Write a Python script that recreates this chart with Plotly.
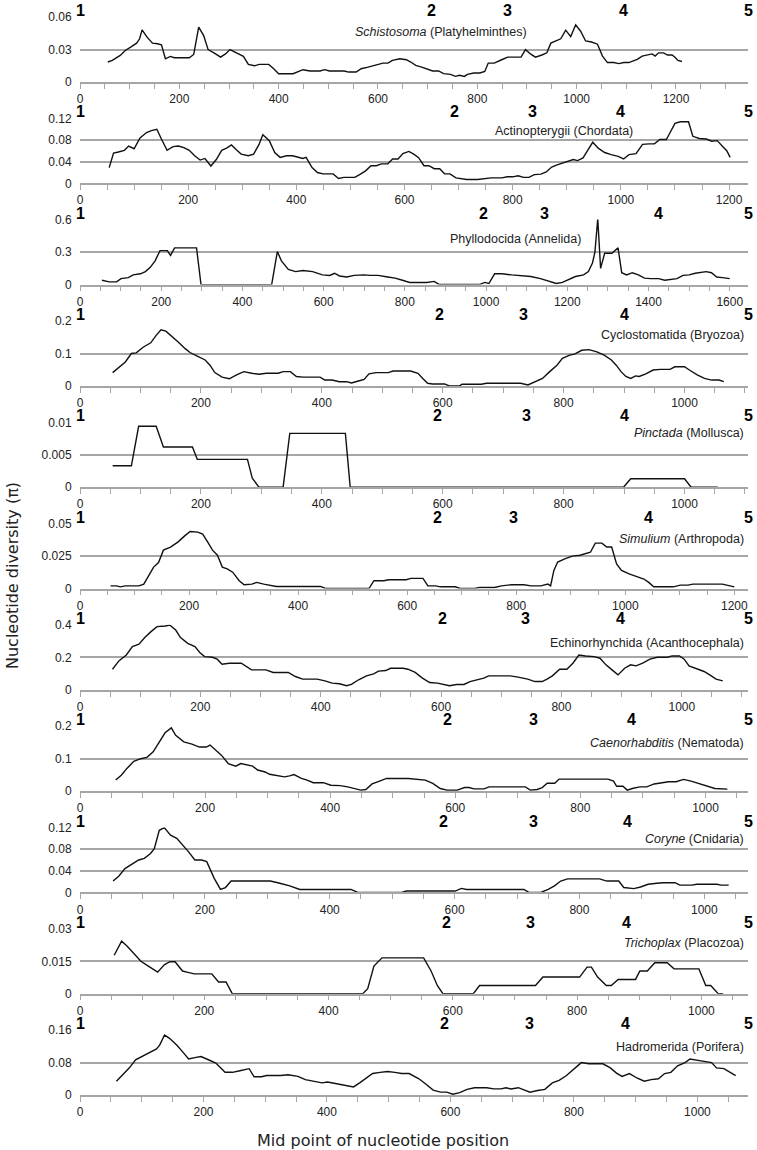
import plotly.graph_objects as go

W, H = 757, 1150

# ---------------- data ----------------
schisto_x = [56,65,81,91,102,114,120,125,135,146,156,164,172,182,190,220,229,239,249,258,273,283,293,302,312,322,329,339,351,361,380,390,400,429,439,449,463,483,493,502,532,541,556,566,580,595,610,620,629,644,657,666,676,688,698,710,722,732,746,756,764,774,780,793,805,815,822,834,849,861,888,897,907,917,930,940,948,958,968,978,988,998,1008,1018,1030,1042,1052,1062,1075,1085,1095,1105,1112,1122,1132,1142,1152,1158,1165,1175,1183,1192,1198,1204,1212]
schisto_y = [0.0185,0.020,0.0246,0.0292,0.0323,0.036,0.040,0.0483,0.0415,0.036,0.0354,0.0345,0.0215,0.0237,0.0225,0.0225,0.0255,0.0508,0.043,0.030,0.026,0.023,0.026,0.030,0.0277,0.0255,0.0237,0.0163,0.0150,0.0163,0.0163,0.0123,0.0077,0.0077,0.0098,0.0114,0.0102,0.0102,0.0114,0.0102,0.0102,0.0092,0.0092,0.0123,0.0138,0.0154,0.0175,0.0175,0.020,0.0215,0.0206,0.0185,0.0154,0.0138,0.0123,0.0102,0.0102,0.0077,0.0071,0.0052,0.0062,0.0052,0.0071,0.0083,0.0083,0.0098,0.0175,0.0175,0.0206,0.023,0.023,0.030,0.026,0.023,0.025,0.027,0.036,0.038,0.040,0.048,0.042,0.053,0.047,0.038,0.037,0.035,0.024,0.018,0.018,0.017,0.018,0.018,0.019,0.021,0.024,0.025,0.026,0.024,0.027,0.027,0.025,0.025,0.023,0.020,0.019]

actino_x = [54,62,71,82,90,100,111,123,132,142,151,161,172,182,192,202,212,222,231,242,252,262,271,280,289,298,311,321,331,338,350,360,370,382,393,404,412,418,429,439,449,468,478,488,508,517,528,538,548,557,569,578,588,597,608,617,626,636,645,655,665,674,684,695,705,715,735,745,760,780,790,800,810,820,830,840,852,862,872,882,892,902,912,920,930,938,948,958,970,982,995,1005,1015,1028,1040,1052,1062,1072,1084,1092,1100,1110,1125,1133,1145,1158,1168,1178,1188,1196,1202]
actino_y = [0.029,0.056,0.058,0.061,0.069,0.064,0.084,0.094,0.0975,0.100,0.081,0.061,0.068,0.069,0.066,0.061,0.051,0.043,0.046,0.032,0.044,0.061,0.065,0.071,0.062,0.054,0.051,0.054,0.072,0.090,0.079,0.057,0.048,0.051,0.051,0.048,0.046,0.048,0.029,0.020,0.0175,0.0175,0.009,0.011,0.011,0.016,0.023,0.0325,0.0325,0.036,0.036,0.045,0.045,0.055,0.059,0.054,0.0475,0.0325,0.0325,0.027,0.027,0.0175,0.0175,0.010,0.009,0.007,0.007,0.008,0.010,0.010,0.012,0.012,0.014,0.011,0.011,0.016,0.017,0.021,0.030,0.034,0.037,0.041,0.044,0.042,0.047,0.060,0.076,0.065,0.057,0.053,0.050,0.045,0.053,0.055,0.072,0.073,0.073,0.081,0.081,0.096,0.111,0.114,0.114,0.087,0.083,0.082,0.078,0.079,0.068,0.060,0.048]

phyllo_x = [54,72,90,101,119,131,149,161,173,185,197,215,223,233,287,298,472,486,496,513,531,549,573,597,615,627,639,657,675,698,716,734,758,776,794,812,854,872,884,985,997,1007,1021,1039,1063,1087,1110,1134,1158,1173,1188,1206,1220,1240,1252,1262,1268,1275,1282,1292,1310,1325,1334,1346,1360,1375,1390,1405,1425,1440,1455,1470,1485,1500,1515,1530,1542,1555,1568,1582,1600]
phyllo_y = [0.04,0.025,0.025,0.055,0.065,0.09,0.10,0.12,0.16,0.22,0.315,0.315,0.27,0.34,0.34,0.0,0.0,0.306,0.22,0.14,0.12,0.13,0.12,0.09,0.085,0.105,0.08,0.07,0.085,0.09,0.085,0.085,0.07,0.06,0.04,0.02,0.02,0.03,0.002,0.002,0.02,0.01,0.10,0.10,0.09,0.085,0.075,0.055,0.025,0.01,0.02,0.055,0.075,0.09,0.12,0.20,0.30,0.61,0.15,0.29,0.29,0.34,0.11,0.09,0.11,0.09,0.06,0.055,0.055,0.04,0.05,0.055,0.085,0.09,0.105,0.11,0.12,0.11,0.07,0.065,0.055]

cyclo_x = [54,65,75,85,93,105,117,126,134,142,152,162,174,182,194,207,215,223,235,247,259,271,284,296,308,328,336,348,358,369,397,405,417,429,441,449,462,470,478,490,510,518,547,559,567,575,583,603,611,628,632,664,672,729,741,753,765,777,789,798,810,818,830,842,855,867,879,887,895,903,911,919,925,936,948,960,976,984,1000,1008,1021,1033,1045,1057,1065]
cyclo_y = [0.041,0.059,0.074,0.10,0.102,0.12,0.133,0.156,0.173,0.169,0.151,0.136,0.115,0.103,0.092,0.080,0.064,0.041,0.027,0.022,0.034,0.044,0.039,0.036,0.039,0.039,0.044,0.044,0.029,0.027,0.027,0.018,0.018,0.013,0.013,0.009,0.016,0.020,0.037,0.041,0.041,0.046,0.046,0.039,0.023,0.008,0.006,0.006,0.0,0.0,0.005,0.005,0.008,0.008,0.003,0.013,0.023,0.044,0.064,0.085,0.095,0.098,0.110,0.112,0.105,0.095,0.080,0.064,0.044,0.029,0.023,0.031,0.029,0.037,0.049,0.051,0.051,0.059,0.059,0.049,0.034,0.023,0.018,0.018,0.013]

pinct_x = [54,85,97,126,138,186,194,277,285,296,336,347,439,447,899,911,1000,1011,1055]
pinct_y = [0.0033,0.0033,0.0094,0.0094,0.0062,0.0062,0.0043,0.0043,0.0014,0.0,0.0,0.0083,0.0083,0.0,0.0,0.0013,0.0013,0.0,0.0]

simul_x = [56,67,74,83,108,117,126,135,144,153,166,180,193,202,216,225,234,243,252,261,270,280,292,301,315,324,337,351,360,441,450,530,539,557,566,598,607,629,638,652,661,688,697,724,733,760,773,791,814,827,845,858,863,869,876,890,903,917,926,936,945,957,966,975,984,993,1007,1020,1034,1043,1052,1088,1101,1115,1124,1178,1191,1200]
simul_y = [0.002,0.002,0.0013,0.002,0.002,0.0034,0.010,0.0165,0.020,0.0296,0.032,0.036,0.041,0.044,0.0435,0.042,0.036,0.0296,0.0257,0.0165,0.0152,0.0126,0.006,0.0029,0.0034,0.0047,0.0034,0.0026,0.0016,0.0016,0.0,0.0,0.006,0.006,0.0068,0.0068,0.0078,0.0078,0.002,0.002,0.0013,0.0013,0.0,0.0,0.0008,0.0008,0.002,0.0029,0.0029,0.002,0.002,0.0034,0.002,0.014,0.0204,0.023,0.025,0.0257,0.027,0.028,0.035,0.035,0.032,0.032,0.019,0.014,0.0113,0.0092,0.0073,0.0047,0.0013,0.0013,0.0026,0.0026,0.0034,0.0034,0.002,0.0013]

echino_x = [54,65,77,87,98,108,118,128,142,149,159,167,179,191,199,207,220,228,236,248,268,276,285,309,321,346,358,370,394,407,419,431,443,451,463,476,488,496,508,516,537,545,557,569,581,594,606,614,626,638,648,661,671,679,715,728,744,756,768,776,785,797,809,819,829,840,854,864,874,884,894,905,915,924,935,947,959,976,984,996,1004,1012,1024,1037,1049,1057,1068]
echino_y = [0.127,0.18,0.215,0.267,0.281,0.324,0.359,0.39,0.394,0.40,0.369,0.322,0.287,0.267,0.23,0.205,0.201,0.189,0.158,0.164,0.164,0.144,0.123,0.123,0.107,0.107,0.082,0.066,0.066,0.055,0.041,0.037,0.025,0.033,0.062,0.086,0.098,0.115,0.119,0.133,0.133,0.127,0.107,0.072,0.045,0.041,0.031,0.025,0.033,0.033,0.051,0.062,0.072,0.086,0.086,0.078,0.066,0.051,0.051,0.066,0.086,0.127,0.127,0.164,0.215,0.209,0.205,0.195,0.154,0.123,0.092,0.133,0.154,0.148,0.164,0.189,0.201,0.201,0.209,0.209,0.189,0.148,0.133,0.113,0.086,0.066,0.055]

caeno_x = [57,66,75,86,97,107,117,128,136,146,153,166,179,191,202,208,218,226,237,249,257,268,276,284,296,303,315,327,335,342,354,363,373,389,401,416,428,440,449,457,467,479,490,525,541,552,564,576,587,603,615,622,630,646,654,712,720,731,739,747,759,766,844,853,858,868,875,883,895,906,918,930,941,953,965,977,988,1004,1015,1035]
caeno_y = [0.034,0.049,0.070,0.092,0.10,0.104,0.121,0.157,0.18,0.195,0.172,0.152,0.145,0.136,0.136,0.142,0.124,0.111,0.085,0.077,0.085,0.08,0.077,0.065,0.059,0.052,0.049,0.044,0.047,0.051,0.039,0.034,0.026,0.026,0.018,0.017,0.013,0.008,0.003,0.005,0.022,0.031,0.039,0.039,0.037,0.034,0.024,0.008,0.003,0.003,0.011,0.011,0.007,0.007,0.013,0.013,0.003,0.005,0.011,0.024,0.024,0.037,0.037,0.031,0.015,0.015,0.003,0.008,0.013,0.013,0.022,0.026,0.029,0.029,0.036,0.031,0.024,0.015,0.008,0.006]

coryne_x = [53,62,72,82,94,103,113,119,127,135,145,155,165,174,184,195,203,215,225,233,242,258,305,320,336,352,434,445,515,523,601,611,619,711,719,738,750,760,770,781,832,844,863,871,887,898,910,924,934,953,961,980,988,1020,1027,1039]
coryne_y = [0.021,0.030,0.044,0.052,0.060,0.063,0.072,0.081,0.115,0.12,0.106,0.10,0.087,0.075,0.060,0.060,0.057,0.026,0.0055,0.009,0.021,0.021,0.021,0.017,0.012,0.0055,0.0055,0.0,0.0,0.0025,0.0025,0.0074,0.0055,0.0055,0.0,0.0,0.0055,0.012,0.021,0.025,0.025,0.021,0.021,0.009,0.007,0.010,0.015,0.017,0.018,0.018,0.0135,0.0135,0.015,0.015,0.0135,0.0135]

tricho_x = [55,67,76,86,98,110,122,125,136,145,153,165,172,184,212,223,235,245,455,463,473,486,553,565,575,584,633,643,733,745,804,816,823,833,847,855,866,894,901,913,925,945,956,996,1007,1015,1027,1035]
tricho_y = [0.0178,0.0243,0.022,0.019,0.015,0.0128,0.0105,0.010,0.0135,0.0148,0.0148,0.0105,0.010,0.0092,0.0092,0.0054,0.0054,0.0,0.0,0.0023,0.0128,0.0166,0.0166,0.0105,0.0038,0.0,0.0,0.0038,0.0038,0.0077,0.0077,0.0123,0.0123,0.0077,0.0038,0.0038,0.0066,0.0066,0.0105,0.0105,0.0143,0.0143,0.0115,0.0115,0.0038,0.0038,0.0,0.0]

hadro_x = [59,69,80,90,102,114,124,129,137,145,157,166,176,188,196,208,220,235,247,259,274,282,294,302,325,337,353,365,376,392,401,415,431,443,453,463,474,486,498,510,521,533,549,561,572,584,594,604,615,627,639,659,670,682,690,698,710,717,729,741,753,765,776,788,800,812,824,847,859,869,878,890,902,914,925,937,947,957,968,980,988,1000,1011,1023,1031,1043,1054,1062]
hadro_y = [0.034,0.050,0.067,0.087,0.097,0.105,0.114,0.123,0.148,0.14,0.123,0.107,0.089,0.093,0.095,0.087,0.079,0.056,0.056,0.060,0.065,0.045,0.045,0.048,0.048,0.050,0.046,0.038,0.034,0.030,0.032,0.028,0.022,0.020,0.030,0.042,0.053,0.056,0.058,0.056,0.053,0.053,0.040,0.026,0.012,0.007,0.007,0.002,0.006,0.014,0.018,0.018,0.015,0.015,0.018,0.015,0.018,0.014,0.007,0.011,0.014,0.030,0.036,0.048,0.063,0.080,0.077,0.077,0.067,0.054,0.046,0.053,0.042,0.034,0.038,0.040,0.053,0.056,0.072,0.080,0.089,0.085,0.083,0.080,0.067,0.065,0.054,0.048]

# axis maxima (x) and y ticks
x_max = [1345, 1235, 1645, 1105, 1105, 1225, 1110, 1068, 1070, 1075, 1082]
y_ticks = [
    [0, 0.03, 0.06], [0, 0.04, 0.08, 0.12], [0, 0.3, 0.6], [0, 0.1, 0.2],
    [0, 0.005, 0.01], [0, 0.025, 0.05], [0, 0.2, 0.4], [0, 0.1, 0.2],
    [0, 0.04, 0.08, 0.12], [0, 0.015, 0.03], [0, 0.08, 0.16]]
y_ticktext = [
    ["0", "0.03", "0.06"], ["0", "0.04", "0.08", "0.12"], ["0", "0.3", "0.6"], ["0", "0.1", "0.2"],
    ["0", "0.005", "0.01"], ["0", "0.025", "0.05"], ["0", "0.2", "0.4"], ["0", "0.1", "0.2"],
    ["0", "0.04", "0.08", "0.12"], ["0", "0.015", "0.03"], ["0", "0.08", "0.16"]]

# region markers 1..5
region_pos = [
    [0, 707, 861, 1095, 1345], [0, 692, 836, 1000, 1235], [0, 993, 1143, 1425, 1645],
    [0, 595, 733, 901, 1105], [0, 591, 739, 901, 1105], [0, 656, 795, 1043, 1225],
    [0, 602, 740, 898, 1110], [0, 588, 725, 881, 1068], [0, 582, 727, 877, 1070],
    [0, 590, 725, 880, 1075], [0, 590, 728, 884, 1082]]
region_labels = ["1", "2", "3", "4", "5"]

taxa_italic = ["Schistosoma", "", "", "", "Pinctada", "Simulium", "", "Caenorhabditis", "Coryne", "Trichoplax", ""]
taxa_plain = ["(Platyhelminthes)", "Actinopterygii (Chordata)", "Phyllodocida (Annelida)", "Cyclostomatida (Bryozoa)",
              "(Mollusca)", "(Arthropoda)", "Echinorhynchida (Acanthocephala)", "(Nematoda)", "(Cnidaria)",
              "(Placozoa)", "Hadromerida (Porifera)"]
title_x = [727, 894, 1238, None, None, None, None, None, None, None, None]
title_y = [0.046, 0.096, 0.425, 0.157, 0.0083, 0.0385, 0.29, 0.148, 0.098, 0.0235, 0.118]

series_x = [schisto_x, actino_x, phyllo_x, cyclo_x, pinct_x, simul_x, echino_x, caeno_x, coryne_x, tricho_x, hadro_x]
series_y = [schisto_y, actino_y, phyllo_y, cyclo_y, pinct_y, simul_y, echino_y, caeno_y, coryne_y, tricho_y, hadro_y]

# ---------------- layout ----------------
PX_L, PX_R = 80, 748
TOP0, STEP, PH = 17, 101.3, 65
TICKFONT = "Liberation Sans Narrow, Liberation Sans, Arial, sans-serif"
GRID = "#a6a6a6"

fig = go.Figure()
annotations = []
layout_axes = {}
for i in range(11):
    n = i + 1
    sx = "" if n == 1 else str(n)
    xa, ya = "x" + sx, "y" + sx
    fig.add_trace(go.Scatter(x=series_x[i], y=series_y[i], mode="lines",
                             line=dict(color="#111111", width=1.4),
                             xaxis=xa, yaxis=ya, showlegend=False, hoverinfo="skip"))
    top = TOP0 + STEP * i
    bot = top + PH
    ymax = y_ticks[i][-1]
    layout_axes["xaxis" + sx] = dict(
        domain=[PX_L / W, PX_R / W], anchor=ya, range=[0, x_max[i]], automargin=False,
        tickmode="linear", tick0=0, dtick=200, tickformat="d",
        ticks="outside", ticklen=5, tickwidth=1, tickcolor=GRID,
        minor=dict(tickmode="linear", tick0=0, dtick=50, ticks="outside", ticklen=5,
                   tickwidth=1, tickcolor=GRID, showgrid=False),
        showline=True, linecolor=GRID, linewidth=1.5,
        showgrid=False, zeroline=False, fixedrange=True,
        tickfont=dict(family=TICKFONT, size=12, color="#222222"))
    layout_axes["yaxis" + sx] = dict(
        domain=[1 - bot / H, 1 - top / H], anchor=xa, range=[0, ymax * 1.003], automargin=False,
        tickmode="array", tickvals=y_ticks[i], ticktext=y_ticktext[i],
        ticks="outside", ticklen=5, tickcolor="rgba(0,0,0,0)",
        showgrid=True, gridcolor=GRID, gridwidth=1.5,
        showline=False, zeroline=False, fixedrange=True,
        tickfont=dict(family=TICKFONT, size=12, color="#222222"))
    for lab, pos in zip(region_labels, region_pos[i]):
        annotations.append(dict(x=pos, y=ymax, xref=xa, yref=ya, text="<b>%s</b>" % lab,
                                showarrow=False, xanchor="center", yanchor="bottom", yshift=-4,
                                font=dict(family=TICKFONT, size=16, color="#000000")))
    txt = ("<i>%s</i> %s" % (taxa_italic[i], taxa_plain[i])) if taxa_italic[i] else taxa_plain[i]
    if title_x[i] is None:
        annotations.append(dict(x=x_max[i], y=title_y[i], xref=xa, yref=ya, text=txt,
                                showarrow=False, xanchor="right", yanchor="middle", xshift=-2,
                                font=dict(family=TICKFONT, size=12.5, color="#222222")))
    else:
        annotations.append(dict(x=title_x[i], y=title_y[i], xref=xa, yref=ya, text=txt,
                                showarrow=False, xanchor="center" if i < 2 else "right", yanchor="middle",
                                font=dict(family=TICKFONT, size=12.5, color="#222222")))

annotations.append(dict(x=12 / W, y=1 - 576 / H, xref="paper", yref="paper",
                        text="Nucleotide diversity (\u03c0)", textangle=-90, showarrow=False,
                        xanchor="center", yanchor="middle",
                        font=dict(family="DejaVu Sans, Verdana, sans-serif", size=16, color="#222222")))
annotations.append(dict(x=383 / W, y=1 - 1140 / H, xref="paper", yref="paper",
                        text="Mid point of nucleotide position", showarrow=False,
                        xanchor="center", yanchor="middle",
                        font=dict(family="DejaVu Sans, Verdana, sans-serif", size=16, color="#222222")))

fig.update_layout(template="none", width=W, height=H, margin=dict(l=0, r=0, t=0, b=0),
                  paper_bgcolor="white", plot_bgcolor="white",
                  annotations=annotations, **layout_axes)
fig.write_html("out.html", config={"displayModeBar": False},
               post_script="document.body.style.margin='0';")
